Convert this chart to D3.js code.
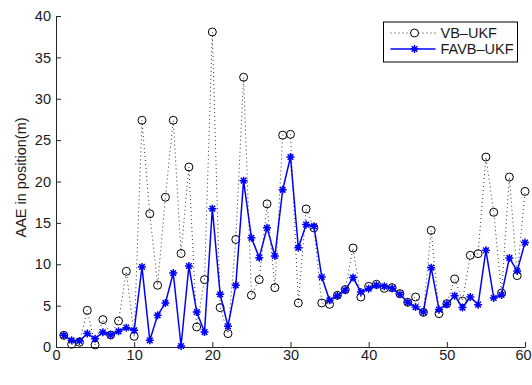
<!DOCTYPE html>
<html>
<head>
<meta charset="utf-8">
<script src="https://cdn.jsdelivr.net/npm/d3@7"></script>
<style>
  body { margin: 0; background: #fff; }
  text { font-family: "Liberation Sans", Arial, sans-serif; }
</style>
</head>
<body>
<div id="chart"></div>
<script>
// run index 1..60
var runs = d3.range(1, 61);

// AAE values
var vbUkf = [1.41, 0.33, 0.57, 4.43, 0.25, 3.31, 1.45, 3.14, 9.15, 1.29,
             27.4, 16.1, 7.46, 18.1, 27.4, 11.3, 21.75, 2.42, 8.14, 38.07,
             4.76, 1.62, 13.0, 32.6, 6.25, 8.14, 17.3, 7.17, 25.6, 25.7,
             5.32, 16.68, 14.4, 5.32, 5.16, 6.25, 6.94, 11.96, 6.04, 7.33,
             7.58, 7.09, 7.17, 6.45, 5.4, 6.04, 4.19, 14.1, 4.03, 5.24,
             8.22, 5.56, 11.08, 11.28, 22.96, 16.28, 6.53, 20.54, 8.63, 18.8];

var favbUkf = [1.41, 0.81, 0.73, 1.62, 1.01, 1.78, 1.45, 1.9, 2.34, 2.02,
               9.67, 0.81, 3.83, 5.32, 8.94, 0.12, 9.79, 4.23, 1.81, 16.72,
               6.37, 2.5, 7.46, 20.1, 13.2, 10.8, 14.4, 11.0, 19.0, 22.96,
               12.0, 14.8, 14.6, 8.46, 5.64, 6.2, 6.85, 8.39, 6.65, 7.05,
               7.46, 7.33, 7.09, 6.37, 5.4, 4.83, 4.23, 9.59, 4.52, 5.16,
               6.2, 4.76, 6.04, 5.12, 11.69, 5.92, 6.29, 10.76, 9.19, 12.62];

var xTicks = [0, 10, 20, 30, 40, 50, 60];
var yTicks = [0, 5, 10, 15, 20, 25, 30, 35, 40];
var seriesNames = ["VB\u2013UKF", "FAVB\u2013UKF"];

var margin = { top: 16, right: 7, bottom: 38, left: 56 };
var width = 532 - margin.left - margin.right,
    height = 385 - margin.top - margin.bottom;

var svg = d3.select("#chart").append("svg")
  .attr("width", width + margin.left + margin.right)
  .attr("height", height + margin.top + margin.bottom)
  .append("g")
  .attr("transform", "translate(" + margin.left + "," + margin.top + ")");

var x = d3.scaleLinear().domain([0, 60]).range([0, width]);
var y = d3.scaleLinear().domain([0, 40]).range([height, 0]);

// axes, matlab style ticks pointing inward
var xAxis = d3.axisBottom(x).tickValues(xTicks).tickSizeInner(-5).tickSizeOuter(0).tickPadding(3);
var yAxis = d3.axisLeft(y).tickValues(yTicks).tickSizeInner(-5).tickSizeOuter(0).tickPadding(5);

var gx = svg.append("g")
  .attr("class", "x-axis")
  .attr("transform", "translate(0," + height + ")")
  .call(xAxis);

var gy = svg.append("g")
  .attr("class", "y-axis")
  .call(yAxis);

[gx, gy].forEach(function (g) {
  g.selectAll("path, line").attr("stroke", "#262626");
  g.selectAll("text").attr("font-size", 14.5).attr("fill", "#1a1a1a");
});

// last x label sits right at the edge, nudge it in a bit
gx.selectAll(".tick text").filter(function (d) { return d === 60; }).attr("dx", -2);

svg.append("text")
  .attr("transform", "translate(" + (-30) + "," + (height / 2 - 4) + ") rotate(-90)")
  .attr("text-anchor", "middle")
  .attr("font-size", 14.5)
  .attr("fill", "#1a1a1a")
  .text("AAE in position(m)");

// asterisk marker path (+ and x combined)
function star(r) {
  var d = r * 0.7071;
  return "M" + (-r) + ",0L" + r + ",0M0," + (-r) + "L0," + r +
         "M" + (-d) + "," + (-d) + "L" + d + "," + d +
         "M" + (-d) + "," + d + "L" + d + "," + (-d);
}

var line = d3.line()
  .x(function (d) { return x(d[0]); })
  .y(function (d) { return y(d[1]); });

var vbData = runs.map(function (r, i) { return [r, vbUkf[i]]; });
var favbData = runs.map(function (r, i) { return [r, favbUkf[i]]; });

// VB-UKF: dotted line with open circles
svg.append("path")
  .attr("d", line(vbData))
  .attr("fill", "none")
  .attr("stroke", "#333")
  .attr("stroke-width", 1)
  .attr("stroke-dasharray", "1,3");

svg.selectAll(".vb-dot")
  .data(vbData)
  .enter().append("circle")
  .attr("class", "vb-dot")
  .attr("cx", function (d) { return x(d[0]); })
  .attr("cy", function (d) { return y(d[1]); })
  .attr("r", 4)
  .attr("fill", "none")
  .attr("stroke", "#000")
  .attr("stroke-width", 1);

// FAVB-UKF: solid blue line with asterisks
svg.append("path")
  .attr("d", line(favbData))
  .attr("fill", "none")
  .attr("stroke", "#0000ff")
  .attr("stroke-width", 1.5);

svg.selectAll(".favb-dot")
  .data(favbData)
  .enter().append("path")
  .attr("class", "favb-dot")
  .attr("transform", function (d) { return "translate(" + x(d[0]) + "," + y(d[1]) + ")"; })
  .attr("d", star(4))
  .attr("stroke", "#0000ff")
  .attr("stroke-width", 1.5);

// legend
var lg = svg.append("g")
  .attr("transform", "translate(" + (383.5 - margin.left) + "," + (22 - margin.top) + ")");

lg.append("rect")
  .attr("width", 134)
  .attr("height", 40)
  .attr("fill", "#fff")
  .attr("stroke", "#000")
  .attr("stroke-width", 1);

lg.append("line")
  .attr("x1", 7).attr("x2", 52).attr("y1", 11).attr("y2", 11)
  .attr("stroke", "#333").attr("stroke-dasharray", "1,3");
lg.append("circle")
  .attr("cx", 31).attr("cy", 11).attr("r", 4)
  .attr("fill", "#fff").attr("stroke", "#000");

lg.append("line")
  .attr("x1", 7).attr("x2", 52).attr("y1", 27).attr("y2", 27)
  .attr("stroke", "#0000ff").attr("stroke-width", 1.5);
lg.append("path")
  .attr("transform", "translate(31,27)")
  .attr("d", star(4))
  .attr("stroke", "#0000ff").attr("stroke-width", 1.5);

lg.selectAll(".legend-label")
  .data(seriesNames)
  .enter().append("text")
  .attr("class", "legend-label")
  .attr("x", 57)
  .attr("y", function (d, i) { return 11 + i * 16; })
  .attr("dy", "0.35em")
  .attr("font-size", 14.5)
  .attr("fill", "#1a1a1a")
  .text(function (d) { return d; });
</script>
</body>
</html>
